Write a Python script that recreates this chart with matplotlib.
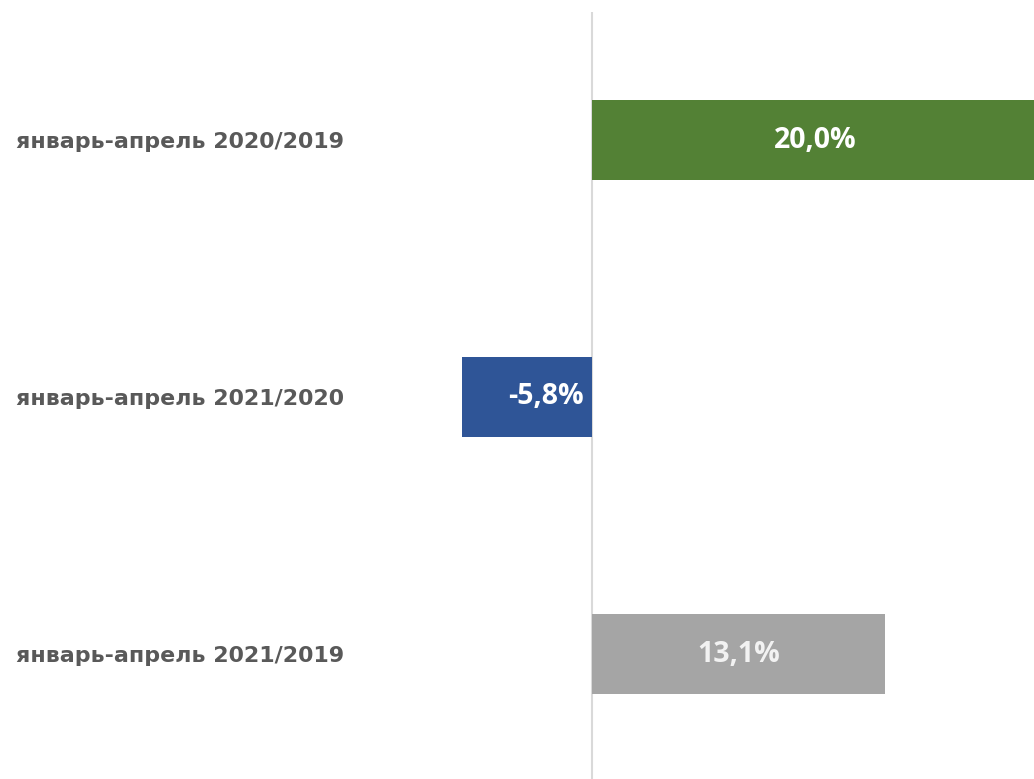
import matplotlib.pyplot as plt

categories = ["январь-апрель 2020/2019", "январь-апрель 2021/2020", "январь-апрель 2021/2019"]
values = [20.0, -5.8, 13.1]
value_labels = ["20,0%", "-5,8%", "13,1%"]
colors = ["#538135", "#2F5597", "#A5A5A5"]
label_colors = ["#FFFFFF", "#FFFFFF", "#F2F2F2"]

plt.rcParams['font.family'] = ['Open Sans', 'DejaVu Sans']

fig = plt.figure(figsize=(10.34, 7.79), dpi=100)
W, H = 1034, 779
zero_px = 592
px_per_unit = 22.35
ax_left = 355
ax = fig.add_axes([ax_left / W, 0, 1 - ax_left / W, 1 - 11.5 / H])

y = list(range(len(categories)))
ax.barh(y, values, height=0.31, color=colors, zorder=2)
ax.set_xlim(-(zero_px - ax_left) / px_per_unit, (W - zero_px) / px_per_unit)
ax.set_ylim(2 + (H - 654) / 257, -0.5)
ax.axvline(0, color="#D9D9D9", lw=1.5, zorder=1)

# подписи значений внутри столбцов
for i, (v, lab) in enumerate(zip(values, value_labels)):
    if v >= 0:
        ax.text(v / 2, i, lab, ha="center", va="center", color=label_colors[i],
                fontsize=20.5, fontweight="bold", zorder=3)
    else:
        ax.text(-0.35, i, lab, ha="right", va="center", color=label_colors[i],
                fontsize=20.5, fontweight="bold", zorder=3)

ax.set_yticks(y)
ax.set_yticklabels(categories, fontsize=15.9, fontweight="bold", color="#595959",
                   family="DejaVu Sans")
ax.tick_params(axis="y", length=0, pad=8)
ax.set_xticks([])
for s in ax.spines.values():
    s.set_visible(False)

fig.savefig("out.png", dpi=100)
